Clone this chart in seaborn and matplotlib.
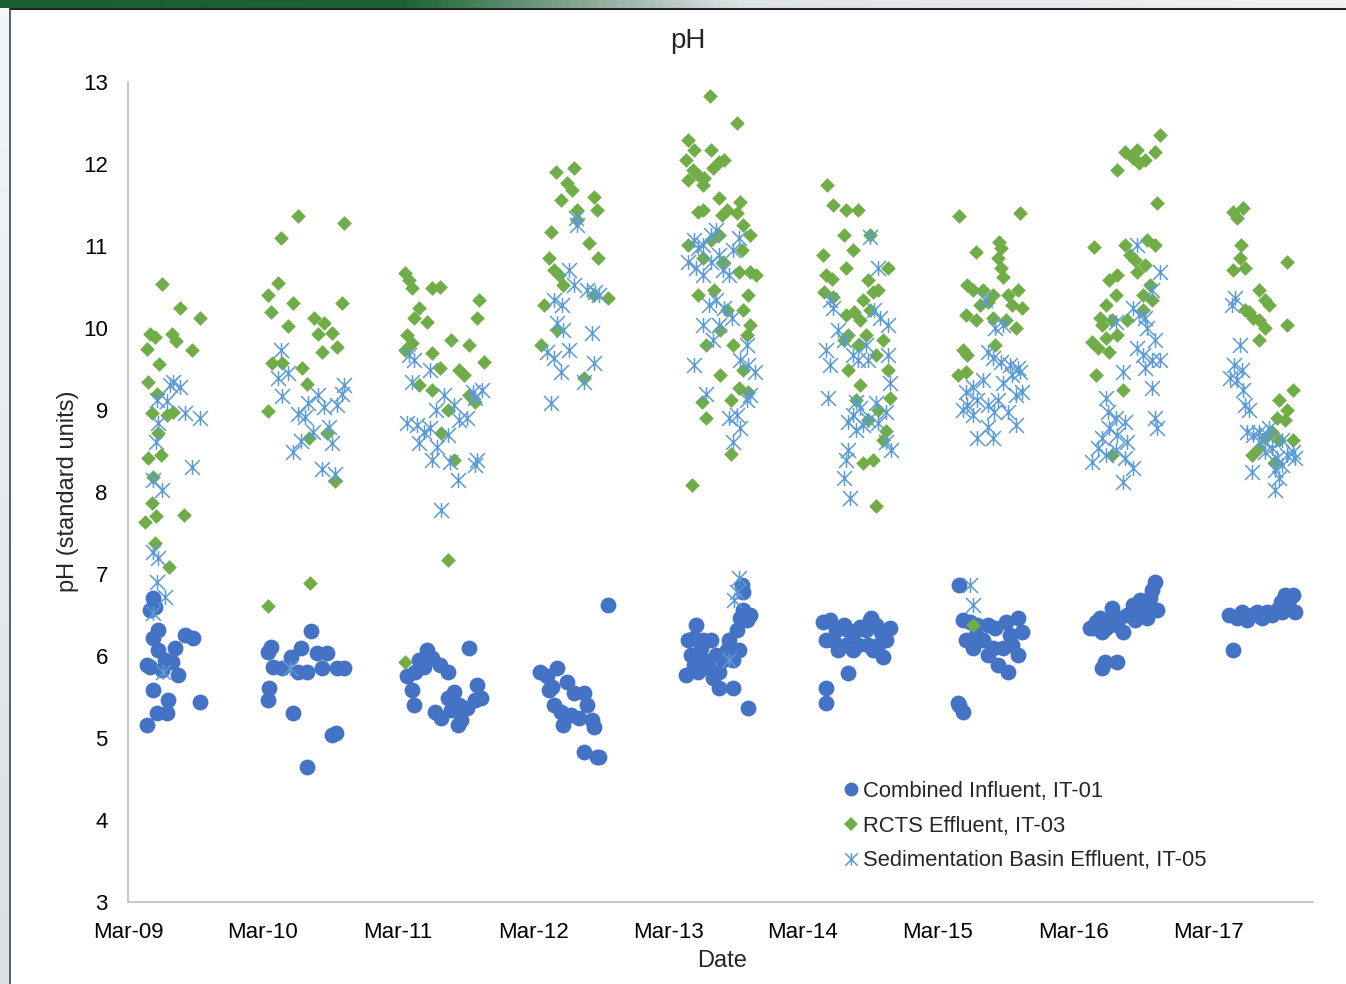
"""pH 散点图（Excel 风格复刻）。"""

import numpy as np
import pandas as pd
import matplotlib
matplotlib.use("Agg")
import matplotlib.pyplot as plt
import matplotlib.dates as mdates
from matplotlib.path import Path
from matplotlib.lines import Line2D
from matplotlib.colors import LinearSegmentedColormap
import seaborn as sns

# x 值：距 2009-03-01 的月数；y 值：pH
influent = [
    (2.2, 6.71), (1.95, 6.56), (2.66, 6.32), (2.2, 6.22), (5.05, 6.26), (5.76, 6.22), (2.66, 6.07),
    (4.17, 6.1), (1.68, 5.89), (3.28, 5.95), (3.9, 5.93), (4.43, 5.77), (2.2, 5.59), (3.55, 5.46),
    (6.38, 5.44), (2.57, 5.3), (3.46, 5.3), (1.68, 5.16), (3.0, 5.83), (1.95, 5.87), (2.4, 6.6),
    (12.7, 6.11), (12.4, 6.05), (16.3, 6.3), (15.4, 6.1), (12.9, 5.87), (13.65, 5.85), (14.5, 5.99),
    (15.1, 5.8), (15.9, 5.8), (16.8, 6.04), (17.7, 6.04), (17.2, 5.85), (18.6, 5.85), (19.2, 5.85),
    (12.5, 5.61), (12.4, 5.46), (14.7, 5.3), (18.1, 5.04), (18.5, 5.06), (15.95, 4.65),
    (24.8, 5.76), (25.2, 5.59), (25.5, 5.8), (25.9, 5.95), (26.6, 6.07), (25.4, 5.4), (26.3, 5.87),
    (27.0, 5.98), (27.7, 5.89), (28.4, 5.8), (27.3, 5.32), (27.8, 5.24), (28.4, 5.49), (29.0, 5.56),
    (29.4, 5.4), (29.6, 5.22), (30.1, 5.37), (30.3, 6.1), (31.0, 5.65), (31.4, 5.49), (30.8, 5.46),
    (28.7, 5.34), (29.3, 5.16),
    (36.6, 5.8), (37.2, 5.76), (38.1, 5.85), (37.7, 5.62), (39.0, 5.68), (39.6, 5.55), (40.5, 5.55),
    (40.8, 5.4), (37.85, 5.4), (38.5, 5.32), (39.4, 5.28), (40.1, 5.24), (38.7, 5.16), (41.2, 5.22),
    (41.4, 5.13), (40.5, 4.83), (41.7, 4.77), (41.9, 4.77), (42.7, 6.62), (37.4, 5.59),
    (49.6, 5.77), (49.8, 6.2), (50.0, 6.01), (50.5, 6.38), (50.3, 5.89), (50.9, 6.1), (51.2, 5.95),
    (51.6, 5.85), (51.8, 6.2), (52.3, 6.01), (52.5, 5.8), (52.5, 5.61), (52.9, 5.95), (53.4, 6.2),
    (53.2, 6.07), (53.8, 5.95), (53.8, 5.61), (54.1, 6.32), (54.4, 6.46), (54.7, 6.56), (55.0, 6.44),
    (55.3, 6.5), (54.6, 6.87), (54.7, 6.78), (55.1, 5.37), (50.7, 5.8), (52.0, 5.73), (51.15, 6.2),
    (50.35, 6.22), (54.3, 6.07),
    (61.8, 6.41), (62.4, 6.44), (62.9, 6.32), (63.6, 6.38), (64.0, 6.32), (64.5, 6.29), (65.1, 6.35),
    (65.6, 6.32), (66.05, 6.46), (66.5, 6.38), (66.9, 6.29), (67.4, 6.2), (67.7, 6.34), (66.7, 6.13),
    (65.8, 6.13), (64.9, 6.13), (63.8, 6.13), (62.7, 6.2), (62.05, 6.2), (63.1, 6.07), (64.45, 6.07),
    (66.2, 6.07), (67.1, 5.99), (65.96, 6.44), (62.05, 5.61), (62.05, 5.43), (64.0, 5.79),
    (73.85, 6.87), (74.2, 6.44), (74.8, 6.41), (75.5, 6.38), (76.4, 6.38), (77.1, 6.34), (78.0, 6.41),
    (78.4, 6.26), (79.1, 6.46), (79.5, 6.29), (74.5, 6.2), (75.1, 6.1), (75.98, 6.2), (76.4, 6.01),
    (76.9, 6.1), (77.75, 6.1), (78.6, 6.13), (79.1, 6.01), (77.3, 5.89), (78.2, 5.8), (75.35, 6.26),
    (73.76, 5.43), (74.2, 5.32), (73.9, 5.4),
    (85.46, 6.34), (86.0, 6.41), (86.4, 6.46), (86.9, 6.34), (87.2, 6.44), (87.5, 6.59), (87.9, 6.38),
    (88.4, 6.29), (88.8, 6.5), (89.3, 6.62), (89.7, 6.56), (89.98, 6.68), (90.4, 6.62), (90.8, 6.71),
    (91.05, 6.8), (91.3, 6.9), (91.5, 6.56), (90.6, 6.46), (89.5, 6.44), (88.1, 6.46), (86.6, 6.29),
    (85.8, 6.34), (86.8, 5.93), (87.9, 5.93), (86.6, 5.85),
    (97.9, 6.5), (98.6, 6.46), (99.0, 6.54), (99.5, 6.44), (99.9, 6.5), (100.35, 6.54), (100.8, 6.46),
    (101.2, 6.54), (101.7, 6.5), (102.1, 6.56), (102.5, 6.66), (102.8, 6.74), (103.2, 6.68),
    (103.5, 6.74), (103.7, 6.54), (102.6, 6.54), (98.2, 6.07),
]

rcts = [
    (3.0, 10.54), (4.6, 10.24), (6.4, 10.12), (1.95, 9.93), (2.4, 9.89), (3.9, 9.93), (4.3, 9.84),
    (1.7, 9.74), (5.7, 9.73), (2.75, 9.56), (1.8, 9.34), (2.6, 9.2), (2.1, 8.96), (3.45, 8.94),
    (4.0, 8.98), (2.7, 8.72), (1.8, 8.41), (2.9, 8.45), (2.2, 8.18), (2.1, 7.87), (2.5, 7.71),
    (1.5, 7.63), (5.0, 7.72), (2.4, 7.38), (3.6, 7.09),
    (13.3, 10.55), (12.4, 10.4), (14.7, 10.3), (19.0, 10.3), (12.7, 10.2), (14.2, 10.02), (16.5, 10.12),
    (17.4, 10.06), (16.9, 9.93), (18.1, 9.94), (17.2, 9.71), (18.6, 9.77), (12.8, 9.57), (13.7, 9.57),
    (15.5, 9.51), (15.9, 9.32), (12.4, 8.99), (17.7, 8.72), (16.1, 8.66), (18.4, 8.13), (13.6, 11.1),
    (15.1, 11.37), (19.2, 11.28), (16.2, 6.89), (12.4, 6.61),
    (24.6, 10.67), (25.0, 10.59), (25.2, 10.49), (27.0, 10.49), (27.7, 10.5), (25.9, 10.24),
    (25.4, 10.12), (26.6, 10.07), (28.7, 9.85), (30.3, 9.79), (31.0, 10.12), (31.2, 10.34),
    (24.8, 9.91), (25.2, 9.82), (24.6, 9.73), (27.0, 9.7), (27.7, 9.51), (29.4, 9.49), (29.9, 9.43),
    (31.6, 9.59), (30.3, 9.18), (30.8, 9.1), (27.0, 9.24), (25.9, 9.3), (28.4, 9.0), (27.8, 8.72),
    (29.0, 8.39), (28.4, 7.17), (24.6, 5.93),
    (38.0, 11.9), (39.6, 11.95), (39.0, 11.77), (38.5, 11.56), (39.45, 11.68), (39.9, 11.44),
    (41.4, 11.6), (41.7, 11.44), (37.6, 11.17), (39.9, 11.32), (41.0, 11.04), (41.8, 10.85),
    (37.4, 10.85), (37.85, 10.71), (38.3, 10.65), (36.97, 10.28), (38.7, 10.52), (42.7, 10.37),
    (41.4, 10.4), (36.7, 9.79), (38.1, 9.98), (40.5, 9.39),
    (51.7, 12.83), (54.1, 12.5), (49.8, 12.29), (50.3, 12.17), (49.6, 12.05), (51.8, 12.17),
    (52.5, 12.02), (53.0, 12.05), (50.2, 11.93), (50.7, 11.87), (51.2, 11.83), (51.95, 11.95),
    (51.1, 11.74), (49.8, 11.8), (52.5, 11.59), (54.4, 11.54), (54.1, 11.4), (50.7, 11.41),
    (51.15, 11.44), (52.75, 11.38), (53.2, 11.44), (54.7, 11.26), (55.3, 11.13), (54.6, 10.95),
    (52.5, 11.13), (51.8, 11.07), (49.8, 11.01), (51.15, 10.85), (52.9, 10.8), (54.3, 10.68),
    (55.3, 10.68), (55.85, 10.65), (50.7, 10.4), (52.1, 10.46), (53.2, 10.22), (54.7, 10.22),
    (55.1, 10.4), (55.3, 10.04), (55.0, 9.91), (51.4, 9.79), (53.8, 9.79), (52.66, 9.98), (54.3, 9.27),
    (55.1, 9.22), (51.0, 9.1), (51.4, 8.9), (53.6, 8.46), (50.1, 8.09), (53.6, 9.12), (54.7, 9.49),
    (52.66, 9.43),
    (62.1, 11.74), (62.7, 11.5), (63.8, 11.44), (64.9, 11.44), (63.6, 11.13), (61.8, 10.89),
    (64.45, 10.95), (65.96, 11.13), (63.8, 10.73), (67.55, 10.73), (62.05, 10.65), (62.6, 10.6),
    (61.9, 10.44), (62.7, 10.38), (65.8, 10.59), (66.2, 10.44), (65.3, 10.34), (66.7, 10.46),
    (63.8, 10.16), (64.5, 10.2), (65.1, 10.1), (65.96, 10.22), (63.6, 9.85), (64.0, 9.91),
    (64.9, 9.79), (65.6, 9.91), (67.1, 9.85), (66.5, 9.67), (67.55, 9.49), (64.0, 9.49), (65.1, 9.3),
    (67.7, 9.15), (64.7, 9.12), (66.7, 9.0), (65.8, 8.88), (67.1, 8.63), (66.2, 8.39), (65.3, 8.35),
    (66.5, 7.83), (67.4, 8.74),
    (73.85, 11.37), (79.3, 11.4), (77.4, 11.05), (75.35, 10.93), (77.6, 10.98), (77.3, 10.85),
    (77.6, 10.73), (77.75, 10.62), (74.6, 10.52), (75.1, 10.46), (79.1, 10.46), (75.98, 10.46),
    (76.9, 10.4), (78.2, 10.4), (76.4, 10.32), (75.7, 10.28), (74.5, 10.16), (78.6, 10.28),
    (79.5, 10.24), (75.35, 10.1), (76.9, 10.12), (78.0, 10.1), (78.9, 10.0), (74.2, 9.73),
    (74.6, 9.67), (73.76, 9.43), (74.5, 9.46), (77.1, 9.79), (75.1, 6.38),
    (85.9, 10.99), (87.9, 11.93), (88.65, 12.15), (89.7, 12.17), (89.9, 12.01), (89.3, 12.07),
    (90.4, 12.05), (91.3, 12.15), (91.7, 12.35), (91.5, 11.52), (90.6, 11.07), (91.3, 11.01),
    (88.65, 11.01), (89.1, 10.89), (89.5, 10.83), (87.9, 10.65), (87.2, 10.59), (89.7, 10.68),
    (90.4, 10.77), (90.8, 10.52), (90.2, 10.4), (91.05, 10.34), (87.8, 10.4), (86.9, 10.28),
    (87.5, 10.1), (86.4, 10.12), (85.7, 9.83), (86.2, 9.76), (86.9, 9.88), (87.2, 9.71), (87.9, 9.91),
    (88.8, 10.1), (86.6, 10.04), (86.0, 9.43), (90.2, 10.22), (88.4, 9.24), (87.5, 8.45),
    (98.2, 11.41), (98.6, 11.34), (99.1, 11.46), (98.9, 11.01), (98.8, 10.85), (98.2, 10.71),
    (99.3, 10.73), (103.0, 10.8), (100.5, 10.46), (101.06, 10.34), (101.4, 10.28), (99.3, 10.22),
    (99.6, 10.2), (100.0, 10.12), (100.5, 10.1), (101.06, 10.0), (100.5, 9.85), (103.0, 10.04),
    (103.5, 9.24), (102.3, 9.12), (103.0, 9.0), (102.8, 8.88), (102.1, 8.9), (101.7, 8.73),
    (102.3, 8.63), (103.5, 8.63), (101.06, 8.66), (100.5, 8.54), (99.9, 8.45), (101.95, 8.37),
]

sed_basin = [
    (4.0, 9.34), (4.6, 9.28), (3.7, 9.3), (2.6, 9.12), (3.5, 9.11), (5.05, 8.96), (6.4, 8.9),
    (2.66, 8.84), (2.5, 8.61), (5.7, 8.3), (2.2, 8.15), (3.0, 8.02), (2.2, 7.27), (2.66, 7.2),
    (2.6, 6.9), (3.3, 6.72), (2.2, 6.52), (3.1, 5.8),
    (13.6, 9.73), (13.3, 9.39), (14.2, 9.45), (13.7, 9.17), (16.0, 9.08), (16.9, 9.18), (17.4, 9.04),
    (15.1, 8.95), (15.7, 8.92), (18.6, 9.06), (19.2, 9.3), (19.0, 9.2), (17.9, 8.79), (16.4, 8.73),
    (15.4, 8.62), (14.7, 8.49), (18.1, 8.6), (17.2, 8.28), (18.4, 8.22), (14.4, 5.85),
    (25.0, 9.67), (25.4, 9.61), (25.2, 9.34), (26.8, 9.49), (24.8, 8.84), (25.7, 8.82), (26.3, 8.73),
    (26.8, 8.78), (25.9, 8.6), (27.4, 9.0), (28.1, 9.18), (29.0, 9.06), (29.4, 8.88), (28.4, 8.7),
    (27.5, 8.55), (27.0, 8.39), (28.6, 8.37), (29.3, 8.15), (27.8, 7.78), (30.1, 8.9), (30.7, 9.22),
    (31.5, 9.24), (31.0, 8.39), (30.8, 8.33), (30.8, 9.15),
    (39.8, 11.34), (39.9, 11.26), (37.85, 10.34), (38.56, 10.28), (39.2, 10.71), (39.6, 10.52),
    (40.8, 10.46), (41.5, 10.44), (41.84, 10.4), (37.2, 9.71), (37.85, 9.63), (38.1, 10.06),
    (38.7, 9.98), (39.2, 9.73), (41.2, 9.94), (41.4, 9.57), (38.5, 9.46), (37.6, 9.09), (40.5, 9.34),
    (50.3, 11.07), (50.7, 10.98), (51.15, 11.01), (51.8, 11.13), (52.3, 11.2), (49.8, 10.8),
    (50.5, 10.73), (51.15, 10.65), (51.8, 10.8), (52.5, 10.89), (52.9, 10.71), (53.4, 10.65),
    (54.3, 11.1), (53.8, 10.95), (51.6, 10.28), (52.3, 10.34), (53.0, 10.24), (51.15, 10.04),
    (52.5, 10.04), (52.0, 9.85), (53.7, 10.12), (50.3, 9.55), (55.0, 9.79), (54.4, 9.61), (55.1, 9.55),
    (55.7, 9.46), (55.0, 9.12), (55.3, 9.18), (54.1, 8.94), (54.4, 8.78), (53.8, 8.61), (53.4, 8.9),
    (51.4, 9.2), (54.3, 6.95), (54.1, 6.78), (53.9, 6.68), (53.4, 5.95),
    (65.96, 11.11), (66.7, 10.73), (62.4, 10.34), (62.7, 10.24), (63.1, 9.98), (67.55, 10.04),
    (66.3, 10.22), (66.8, 10.12), (63.65, 9.85), (62.05, 9.73), (62.4, 9.55), (64.45, 9.67),
    (64.9, 9.61), (65.6, 9.79), (65.8, 9.61), (62.2, 9.15), (64.7, 9.1), (65.1, 9.02), (64.45, 8.94),
    (64.0, 8.85), (65.3, 8.82), (65.8, 8.88), (66.5, 9.09), (66.7, 8.84), (67.4, 8.98), (67.55, 9.67),
    (67.7, 9.33), (67.4, 8.61), (64.7, 8.76), (64.0, 8.51), (63.8, 8.39), (63.6, 8.17), (64.2, 7.93),
    (67.8, 8.51),
    (76.2, 10.34), (77.1, 10.0), (77.75, 10.04), (76.4, 9.71), (76.9, 9.63), (77.6, 9.59),
    (78.4, 9.55), (79.1, 9.51), (78.6, 9.43), (79.3, 9.46), (77.75, 9.33), (75.98, 9.37), (74.5, 9.22),
    (75.1, 9.28), (75.5, 9.12), (74.6, 9.06), (74.2, 9.0), (75.1, 8.94), (76.4, 9.06), (77.0, 8.98),
    (77.3, 9.12), (78.9, 9.18), (79.5, 9.22), (78.2, 8.98), (76.9, 8.66), (75.5, 8.66), (76.4, 8.79),
    (78.9, 8.82), (74.8, 6.87), (75.1, 6.62),
    (89.7, 11.01), (91.7, 10.68), (91.05, 10.46), (87.8, 10.07), (89.3, 10.24), (89.9, 10.16),
    (90.4, 10.12), (90.6, 10.0), (89.7, 9.76), (90.2, 9.67), (91.05, 9.61), (91.7, 9.61), (90.4, 9.51),
    (88.4, 9.46), (86.9, 9.15), (87.06, 8.98), (87.8, 8.9), (87.2, 8.78), (87.9, 8.7), (88.65, 8.85),
    (86.6, 8.66), (86.2, 8.54), (86.9, 8.45), (87.8, 8.51), (88.8, 8.61), (88.65, 8.41), (85.7, 8.37),
    (88.4, 8.12), (89.3, 8.29), (91.05, 9.27), (91.3, 8.9), (91.5, 8.78), (91.3, 9.85),
    (98.4, 10.37), (98.1, 10.28), (98.85, 9.79), (98.3, 9.55), (99.0, 9.49), (97.96, 9.39),
    (98.6, 9.37), (99.1, 9.24), (99.3, 9.06), (99.6, 9.0), (99.5, 8.73), (100.0, 8.7), (100.5, 8.73),
    (100.8, 8.63), (101.2, 8.7), (101.7, 8.54), (101.06, 8.49), (102.1, 8.41), (102.6, 8.33),
    (103.0, 8.45), (103.5, 8.49), (103.7, 8.41), (101.95, 8.27), (102.3, 8.17), (101.95, 8.02),
    (99.9, 8.24), (102.6, 8.63), (101.4, 8.78),
]

series_names = ["Combined Influent, IT-01", "RCTS Effluent, IT-03", "Sedimentation Basin Effluent, IT-05"]
series_colors = ["#4472C4", "#70AD47", "#5B9BD5"]
start_date = pd.Timestamp("2009-03-01")
tick_years = list(range(2009, 2018))


def to_frame(points):
    df = pd.DataFrame(points, columns=["month", "ph"])
    df["date"] = start_date + pd.to_timedelta(df["month"] * 30.44, unit="D")
    return df


# Excel 的星号标记：X 加一条竖线
star = Path(
    [(-0.5, -0.5), (0.5, 0.5), (-0.5, 0.5), (0.5, -0.5), (0, -0.5), (0, 0.5)],
    [Path.MOVETO, Path.LINETO, Path.MOVETO, Path.LINETO, Path.MOVETO, Path.LINETO],
)

sns.set_theme(style="white")
plt.rcParams["font.family"] = ["Liberation Sans", "DejaVu Sans"]

fig = plt.figure(figsize=(13.46, 9.84), dpi=100)
ax = fig.add_axes([128 / 1346, 82 / 984, (1313 - 128) / 1346, (902 - 82) / 984])

sns.scatterplot(data=to_frame(influent), x="date", y="ph", ax=ax, color=series_colors[0],
                marker="o", s=130, linewidth=0, zorder=3)
sns.scatterplot(data=to_frame(rcts), x="date", y="ph", ax=ax, color=series_colors[1],
                marker="D", s=56, linewidth=0, zorder=4)
sns.scatterplot(data=to_frame(sed_basin), x="date", y="ph", ax=ax, color=series_colors[2],
                marker=star, s=115, linewidth=1.1, edgecolor=series_colors[2], zorder=5)

ax.set_ylim(3, 13)
ax.set_yticks(range(3, 14))
ax.set_xlim(start_date, pd.Timestamp("2017-12-10"))
ax.set_xticks([pd.Timestamp(f"{y}-03-01") for y in tick_years])
ax.xaxis.set_major_formatter(mdates.DateFormatter("%b-%y"))
ax.set_xlabel("")
ax.set_ylabel("")

for side in ["top", "right"]:
    ax.spines[side].set_visible(False)
for side in ["left", "bottom"]:
    ax.spines[side].set_color("#BFBFBF")
    ax.spines[side].set_linewidth(1.2)
ax.tick_params(axis="both", direction="inout", length=11, width=1.2, color="#BFBFBF",
               labelsize=16, labelcolor="black")
ax.tick_params(axis="x", pad=9)
ax.tick_params(axis="y", pad=9)
ax.grid(False)

fig.text(688 / 1346, 1 - 41 / 984, "pH", ha="center", va="center", fontsize=20)
fig.text(68 / 1346, 1 - 491 / 984, "pH (standard units)", ha="center", va="center",
         rotation=90, fontsize=17)
fig.text(722 / 1346, 1 - 961 / 984, "Date", ha="center", va="center", fontsize=17)

handles = [
    Line2D([], [], linestyle="none", marker="o", markersize=10, color=series_colors[0], markeredgewidth=0),
    Line2D([], [], linestyle="none", marker="D", markersize=7, color=series_colors[1], markeredgewidth=0),
    Line2D([], [], linestyle="none", marker=star, markersize=9, color=series_colors[2], markeredgewidth=1.1),
]
fig.legend(handles, series_names, loc="upper left", bbox_to_anchor=(844 / 1346, 1 - 781 / 984),
           frameon=False, fontsize=15.8, handlelength=0.6, handletextpad=0.25, labelspacing=0.62,
           borderpad=0, borderaxespad=0)

# 幻灯片边框与顶部绿色装饰条
band = fig.add_axes([0, 1 - 8 / 984, 1, 8 / 984])
band_cmap = LinearSegmentedColormap.from_list(
    "band", [(0, "#17602E"), (0.3, "#1B6532"), (0.42, "#7FA38C"), (0.55, "#DDE4E8"), (1, "#F2F2F2")])
band.imshow(np.linspace(0, 1, 400)[None, :], aspect="auto", cmap=band_cmap, extent=(0, 1, 0, 1))
band.set_axis_off()
side_strip = fig.add_axes([0, 0, 10 / 1346, 1 - 8 / 984])
side_strip.imshow(np.linspace(0, 1, 200)[:, None], aspect="auto",
                  cmap=LinearSegmentedColormap.from_list("side", ["#F4F6F8", "#D8E0E6"]),
                  extent=(0, 1, 0, 1))
side_strip.set_axis_off()
fig.add_artist(Line2D([10 / 1346, 1], [1 - 9 / 984, 1 - 9 / 984], transform=fig.transFigure,
                      color="#222222", linewidth=1.5))
fig.add_artist(Line2D([10 / 1346, 10 / 1346], [0, 1 - 9 / 984], transform=fig.transFigure,
                      color="#444444", linewidth=1.2))

fig.savefig("out.png", dpi=100)
plt.close(fig)
